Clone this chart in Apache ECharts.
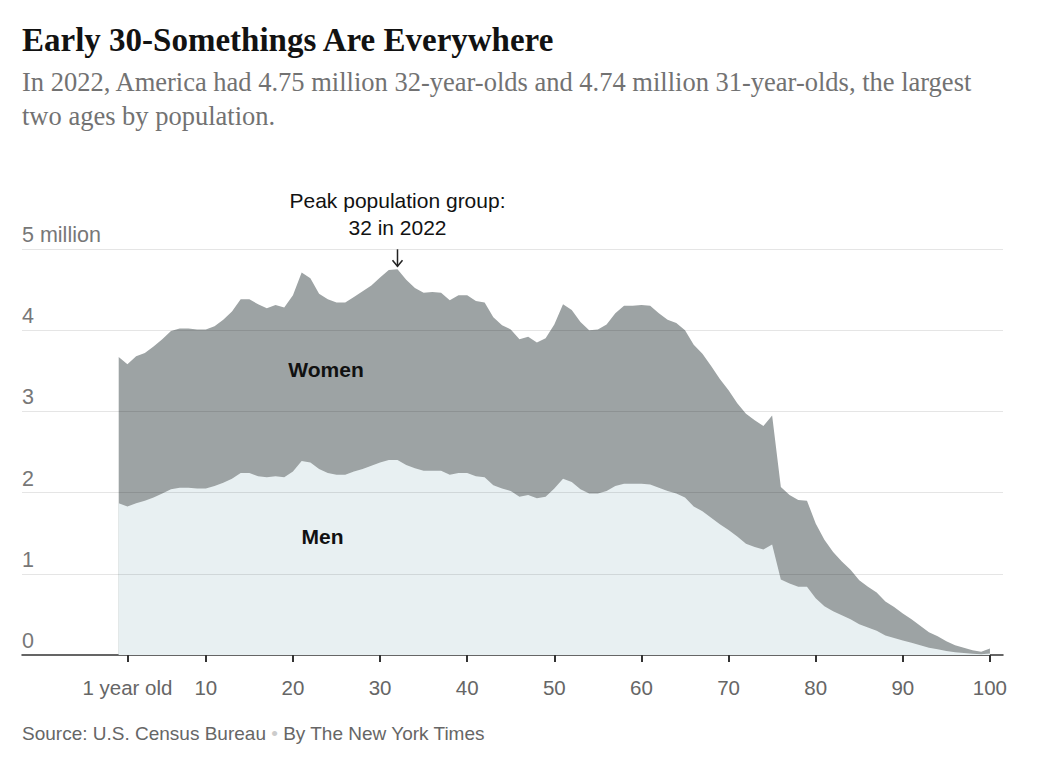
<!DOCTYPE html>
<html>
<head>
<meta charset="utf-8">
<style>
  html, body { margin: 0; padding: 0; background: #fff; }
  #chart { width: 1043px; height: 760px; }
</style>
<script src="https://cdn.jsdelivr.net/npm/echarts@6/dist/echarts.min.js"></script>
</head>
<body>
<div id="chart"></div>
<script>
// ---- data (millions of people, U.S., 2022) ----
var ages = [];
for (var a = 0; a <= 100; a++) ages.push(a);

var men = [1.87,1.83,1.87,1.90,1.94,1.99,2.04,2.06,2.06,2.05,
           2.05,2.08,2.12,2.17,2.24,2.24,2.20,2.19,2.20,2.19,
           2.26,2.39,2.37,2.29,2.24,2.22,2.22,2.26,2.29,2.33,
           2.37,2.40,2.40,2.34,2.30,2.27,2.27,2.27,2.22,2.24,
           2.24,2.20,2.19,2.09,2.05,2.02,1.95,1.97,1.93,1.95,
           2.05,2.17,2.13,2.04,1.99,1.99,2.02,2.08,2.11,2.11,
           2.11,2.10,2.06,2.02,1.99,1.94,1.83,1.77,1.69,1.61,
           1.54,1.46,1.37,1.33,1.30,1.36,0.93,0.88,0.84,0.84,
           0.70,0.60,0.54,0.49,0.44,0.38,0.34,0.30,0.24,0.21,
           0.18,0.15,0.12,0.09,0.07,0.05,0.035,0.025,0.015,0.01,
           0.02];

var women = [1.80,1.75,1.81,1.82,1.86,1.90,1.95,1.96,1.96,1.96,
             1.96,1.97,2.01,2.06,2.14,2.14,2.12,2.08,2.11,2.09,
             2.17,2.32,2.27,2.16,2.14,2.12,2.12,2.15,2.19,2.22,
             2.28,2.34,2.35,2.28,2.22,2.19,2.20,2.19,2.15,2.19,
             2.19,2.16,2.15,2.07,2.01,1.99,1.94,1.95,1.92,1.95,
             2.02,2.15,2.12,2.06,2.01,2.02,2.05,2.13,2.19,2.19,
             2.20,2.20,2.15,2.11,2.10,2.06,1.99,1.94,1.87,1.79,
             1.72,1.64,1.60,1.56,1.52,1.59,1.14,1.09,1.07,1.06,
             0.92,0.82,0.73,0.66,0.61,0.54,0.50,0.47,0.42,0.38,
             0.33,0.29,0.24,0.19,0.16,0.12,0.085,0.065,0.045,0.03,
             0.06];

var xTicks = [1, 10, 20, 30, 40, 50, 60, 70, 80, 90, 100];
var yTicks = [0, 1, 2, 3, 4, 5];
var peakAge = 32;

// ---- build series data ----
var menData = ages.map(function (a, i) { return [a, men[i]]; });
var totalData = ages.map(function (a, i) { return [a, +(men[i] + women[i]).toFixed(3)]; });
var peakValue = totalData[ages.indexOf(peakAge)][1];

var SANS = '"Liberation Sans", Arial, sans-serif';
var SERIF = '"Liberation Serif", "Times New Roman", serif';

var chart = echarts.init(document.getElementById('chart'), null, { renderer: 'svg' });

var option = {
  backgroundColor: '#ffffff',
  animation: false,
  title: [
    {
      text: 'Early 30-Somethings Are Everywhere',
      left: 22, top: 23, padding: 0,
      textStyle: { fontFamily: SERIF, fontWeight: 'bold', fontSize: 33, color: '#121212' }
    },
    {
      text: 'In 2022, America had 4.75 million 32-year-olds and 4.74 million 31-year-olds, the largest\ntwo ages by population.',
      left: 22, top: 65, padding: 0,
      textStyle: { fontFamily: SERIF, fontWeight: 'normal', fontSize: 26.5, lineHeight: 34, color: '#727272' }
    },
    {
      text: 'Source: U.S. Census Bureau {dot|•} By The New York Times',
      left: 22, top: 724, padding: 0,
      textStyle: {
        fontFamily: SANS, fontWeight: 'normal', fontSize: 19, color: '#666666',
        rich: { dot: { fontFamily: SANS, fontSize: 19, color: '#cccccc' } }
      }
    }
  ],
  grid: { left: 22, right: 40, top: 249, bottom: 105, containLabel: false },
  xAxis: {
    type: 'value',
    min: -11.1,
    max: 101.5,
    axisLine: { show: true, lineStyle: { color: '#333333', width: 1.5 } },
    axisTick: { show: true, customValues: xTicks, length: 7, lineStyle: { color: '#333333', width: 2 } },
    axisLabel: {
      customValues: xTicks,
      margin: 22,
      fontFamily: SANS, fontSize: 20.5, color: '#666666',
      formatter: function (v) { return v === 1 ? '1 year old' : String(v); }
    },
    splitLine: { show: false }
  },
  yAxis: {
    type: 'value',
    min: 0, max: 5, interval: 1,
    axisLine: { show: false },
    axisTick: { show: false },
    splitLine: { show: false },
    axisLabel: {
      inside: true,
      margin: 0,
      verticalAlign: 'bottom',
      padding: [0, 0, 3, 0],
      fontFamily: SANS, fontSize: 21.5, color: '#777777',
      formatter: function (v) { return v === 5 ? '5 million' : String(v); }
    }
  },
  series: [
    {
      name: 'Total',
      type: 'line',
      data: totalData,
      symbol: 'none',
      lineStyle: { width: 0 },
      areaStyle: { color: '#9da3a4', opacity: 1 },
      z: 2,
      silent: true
    },
    {
      name: 'Men',
      type: 'line',
      data: menData,
      symbol: 'none',
      lineStyle: { width: 0 },
      areaStyle: { color: '#e8f0f2', opacity: 1 },
      z: 3,
      silent: true,
      markLine: {
        silent: true,
        symbol: 'none',
        label: { show: false },
        lineStyle: { color: 'rgba(0,0,0,0.1)', type: 'solid', width: 1 },
        data: yTicks.filter(function (t) { return t > 0; }).map(function (t) { return { yAxis: t }; })
      }
    }
  ]
};

chart.setOption(option);

// ---- annotations positioned through the chart's own scales ----
var peakPx = chart.convertToPixel({ gridIndex: 0 }, [peakAge, peakValue]);
var womenPx = chart.convertToPixel({ gridIndex: 0 }, [23.8, 3.52]);
var menPx = chart.convertToPixel({ gridIndex: 0 }, [23.4, 1.465]);

chart.setOption({
  graphic: [
    {
      type: 'text',
      x: peakPx[0], y: peakPx[1] - 28,
      style: {
        text: 'Peak population group:\n32 in 2022',
        font: '21px ' + SANS,
        fill: '#121212',
        align: 'center', verticalAlign: 'bottom',
        lineHeight: 27
      },
      z: 10
    },
    {
      type: 'line',
      shape: { x1: peakPx[0], y1: peakPx[1] - 20, x2: peakPx[0], y2: peakPx[1] - 3 },
      style: { stroke: '#222', lineWidth: 1.5 },
      z: 10
    },
    {
      type: 'polyline',
      shape: { points: [[peakPx[0] - 5, peakPx[1] - 9], [peakPx[0], peakPx[1] - 3], [peakPx[0] + 5, peakPx[1] - 9]] },
      style: { stroke: '#222', lineWidth: 1.5, fill: null },
      z: 10
    },
    {
      type: 'text',
      x: womenPx[0], y: womenPx[1],
      style: { text: 'Women', font: 'bold 21px ' + SANS, fill: '#111111', align: 'center', verticalAlign: 'middle' },
      z: 10
    },
    {
      type: 'text',
      x: menPx[0], y: menPx[1],
      style: { text: 'Men', font: 'bold 21px ' + SANS, fill: '#111111', align: 'center', verticalAlign: 'middle' },
      z: 10
    }
  ]
});
</script>
</body>
</html>
